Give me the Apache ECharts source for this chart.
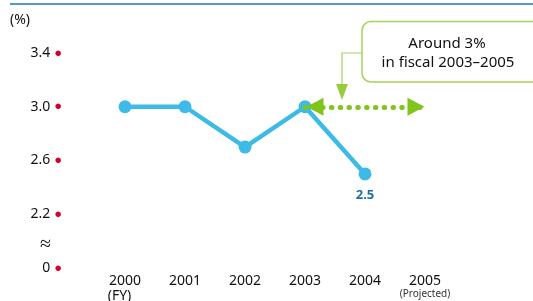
<!DOCTYPE html>
<html>
<head>
<meta charset="utf-8">
<script src="https://cdn.jsdelivr.net/npm/echarts@6/dist/echarts.min.js"></script>
<style>
	html, body { margin: 0; padding: 0; background: #fff; }
	#chart { width: 533px; height: 301px; }
</style>
</head>
<body>
<div id="chart"></div>
<script>
var years = ["2000", "2001", "2002", "2003", "2004", "2005"];
var growth = [3.0, 3.0, 2.7, 3.0, 2.5, null];
var yTicks = ["2.2", "2.6", "3.0", "3.4"];
var targetLevel = 3.0;
var targetFrom = "2003";
var targetTo = "2005";

var blue = '#3dbbe6';
var green = '#80c41c';
var red = '#d4002a';
var font = 'Noto Sans';

var myChart = echarts.init(document.getElementById('chart'));

function yLabel(v) {
	var k = Math.round(v * 10);
	if (k == 18) {
		return '{t|0}{d|●}';
	}
	if (k == 20) {
		return '{a|≈}';
	}
	var s = (k / 10).toFixed(1);
	if (yTicks.indexOf(s) >= 0) {
		return '{t|' + s + '}{d|●}';
	}
	return '';
}

function xLabel(v) {
	if (v == '2000') {
		return '{y|2000}\n{fy|(FY)}';
	}
	if (v == '2005') {
		return '{y|2005}\n{pj|(Projected)}';
	}
	return '{y|' + v + '}';
}

var option = {
	animation: false,
	grid: {
		left: 95,
		right: 78,
		top: 53,
		bottom: 33,
		outerBoundsMode: 'none',
	},
	xAxis: {
		type: 'category',
		data: years,
		boundaryGap: true,
		axisLine: { show: false },
		axisTick: { show: false },
		axisLabel: {
			margin: 5,
			interval: 0,
			formatter: xLabel,
			rich: {
				y: { fontFamily: font, fontSize: 14, color: '#111', lineHeight: 16 },
				fy: { fontFamily: font, fontSize: 14, color: '#111', lineHeight: 14, padding: [0, 11, 0, 0] },
				pj: { fontFamily: font, fontSize: 10, color: '#333', lineHeight: 10 },
			},
		},
	},
	yAxis: {
		type: 'value',
		min: 1.8,
		max: 3.4,
		interval: 0.2,
		splitLine: { show: false },
		axisLine: { show: false },
		axisTick: { show: false },
		axisLabel: {
			margin: 33,
			formatter: yLabel,
			rich: {
				t: { fontFamily: font, fontSize: 14, color: '#111' },
				d: { fontFamily: font, fontSize: 13, color: red, padding: [0, 0, 0, 4] },
				a: { fontFamily: font, fontSize: 20, color: '#111', padding: [6, 11, 0, 0] },
			},
		},
	},
	series: [
		{
			type: 'line',
			data: growth,
			symbol: 'circle',
			symbolSize: 13,
			itemStyle: { color: blue },
			lineStyle: { color: blue, width: 4.5 },
			label: {
				show: true,
				position: 'bottom',
				distance: 8,
				formatter: function(p) {
					return p.dataIndex == 4 ? p.value.toFixed(1) : '';
				},
				fontFamily: font,
				fontSize: 13,
				fontWeight: 'bold',
				color: '#1a70a0',
			},
			markLine: {
				silent: true,
				symbol: ['triangle', 'triangle'],
				symbolSize: [18, 17],
				// put the arrow tips on the end points instead of centring the triangles there
				symbolOffset: [[0, 10], [0, 9]],
				label: { show: false },
				lineStyle: { color: green, width: 5, type: [0.5, 8.3], cap: 'round', opacity: 1 },
				data: [
					[
						{ coord: [targetFrom, targetLevel] },
						{ coord: [targetTo, targetLevel] },
					],
				],
			},
		},
	],
	graphic: [
		{
			type: 'line',
			shape: { x1: 10, y1: 4, x2: 533, y2: 4 },
			style: { stroke: '#1b7aa3', lineWidth: 1.5 },
		},
		{
			type: 'text',
			left: 10,
			top: 13,
			style: { text: '(%)', font: '14px "Noto Sans"', fill: '#111' },
		},
		{
			type: 'rect',
			shape: { x: 362, y: 21.5, width: 180, height: 60.5, r: 9 },
			style: { fill: '#fff', stroke: '#a5d45d', lineWidth: 1.5 },
		},
		{
			type: 'text',
			x: 447,
			y: 44,
			style: { text: 'Around 3%', font: '15px "Noto Sans"', fill: '#111', align: 'center', verticalAlign: 'middle' },
		},
		{
			type: 'text',
			x: 448,
			y: 63,
			style: { text: 'in fiscal 2003–2005', font: '15px "Noto Sans"', fill: '#111', align: 'center', verticalAlign: 'middle' },
		},
		{
			type: 'polyline',
			shape: { points: [[362, 53], [342, 53], [342, 86]] },
			style: { stroke: '#a5d45d', lineWidth: 1.2, fill: null },
		},
		{
			type: 'polygon',
			shape: { points: [[336, 84], [348, 84], [342, 100]] },
			style: { fill: '#98cc3c' },
		},
	],
};

option && myChart.setOption(option);
</script>
</body>
</html>
